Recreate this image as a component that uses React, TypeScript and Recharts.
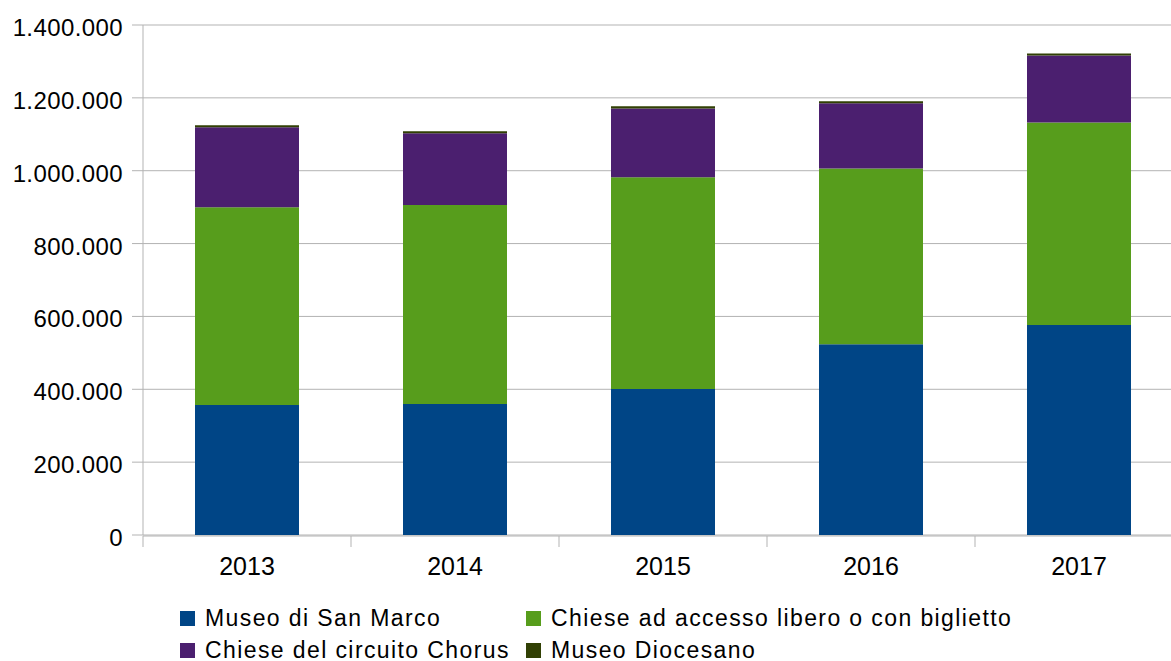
import React from 'react';
import { BarChart, Bar, XAxis, YAxis, CartesianGrid, Legend } from 'recharts';

const years = ['2013', '2014', '2015', '2016', '2017'];
const museoSanMarco = [356700, 359500, 400600, 523300, 576200];
const chieseAccesso = [543300, 546100, 581800, 482900, 556200];
const chieseChorus = [219600, 197500, 188500, 179200, 183900];
const museoDiocesano = [5400, 5500, 6300, 5500, 5500];
const yTicks = [0, 200000, 400000, 600000, 800000, 1000000, 1200000, 1400000];
// category slots (0..n) whose boundaries carry the x-axis tick marks
const slotIndex = [0, 1, 2, 3, 4];
const boundaryTicks = [0, 1, 2, 3, 4, 5];

const series = [
  { key: 'sanMarco', name: 'Museo di San Marco', color: '#004586', values: museoSanMarco },
  { key: 'accesso', name: 'Chiese ad accesso libero o con biglietto', color: '#579d1c', values: chieseAccesso },
  { key: 'chorus', name: 'Chiese del circuito Chorus', color: '#4b1f6f', values: chieseChorus },
  { key: 'diocesano', name: 'Museo Diocesano', color: '#314004', values: museoDiocesano },
];

const data = years.map((year, i) => {
  const row: Record<string, string | number> = { year, slot: slotIndex[i] };
  series.forEach((s) => {
    row[s.key] = s.values[i];
  });
  return row;
});

const FONT = '"Liberation Sans", Arial, Helvetica, sans-serif';
const GRID = '#b3b3b3';

const fmt = (v: number) => String(v).replace(/\B(?=(\d{3})+(?!\d))/g, '.');

const YTick = (props: any) => {
  const { x, y, payload } = props;
  return (
    <text x={x} y={y} dy={11} textAnchor="end" fontSize={24} letterSpacing={0.4} fill="#000" fontFamily={FONT}>
      {fmt(payload.value)}
    </text>
  );
};

const XTick = (props: any) => {
  const { x, y, payload } = props;
  return (
    <text x={x} y={y} dy={40} textAnchor="middle" fontSize={25} fill="#000" fontFamily={FONT}>
      {payload.value}
    </text>
  );
};

const EmptyTick = () => <g />;

const LegendContent = () => (
  <div style={{ position: 'relative', width: 1171, height: 61 }}>
    {series.map((s, i) => {
      const col = i % 2;
      const row = Math.floor(i / 2);
      return (
        <div
          key={s.key}
          style={{
            position: 'absolute',
            left: col === 0 ? 180 : 526,
            top: 3 + row * 32,
            height: 30,
            display: 'flex',
            alignItems: 'center',
          }}
        >
          <span style={{ width: 15, height: 15, background: s.color, display: 'inline-block' }} />
          <span
            style={{
              marginLeft: 10,
              fontSize: 23,
              letterSpacing: 1.4,
              lineHeight: 1,
              whiteSpace: 'nowrap',
              fontFamily: FONT,
              color: '#000',
            }}
          >
            {s.name}
          </span>
        </div>
      );
    })}
  </div>
);

export default function App() {
  return (
    <div
      style={{
        position: 'absolute',
        left: 0,
        top: 0,
        width: 1171,
        height: 661,
        overflow: 'hidden',
        background: '#fff',
      }}
    >
      <BarChart
        width={1200}
        height={661}
        data={data}
        margin={{ top: 25, right: 17, bottom: 0, left: 0 }}
        barSize={104}
      >
        <CartesianGrid horizontal vertical={false} stroke={GRID} />
        <XAxis
          dataKey="year"
          axisLine={false}
          tickLine={false}
          tickSize={0}
          tickMargin={0}
          height={1}
          tick={<XTick />}
          interval={0}
        />
        <XAxis
          xAxisId="bound"
          dataKey="slot"
          type="number"
          scale="linear"
          domain={[0, 5]}
          ticks={boundaryTicks}
          allowDataOverflow
          tick={<EmptyTick />}
          interval={0}
          tickSize={11}
          tickLine={{ stroke: GRID }}
          axisLine={{ stroke: GRID }}
          height={125}
        />
        <YAxis
          width={143}
          domain={[0, 1400000]}
          ticks={yTicks}
          interval={0}
          tickSize={11}
          tickMargin={9}
          tickLine={{ stroke: GRID }}
          axisLine={{ stroke: GRID }}
          tick={<YTick />}
        />
        {series.map((s) => (
          <Bar key={s.key} dataKey={s.key} name={s.name} stackId="a" fill={s.color} isAnimationActive={false} />
        ))}
        <Legend
          layout="horizontal"
          verticalAlign="middle"
          align="center"
          content={<LegendContent />}
          wrapperStyle={{ left: 0, top: 600, width: 1171, height: 61 }}
        />
      </BarChart>
    </div>
  );
}
